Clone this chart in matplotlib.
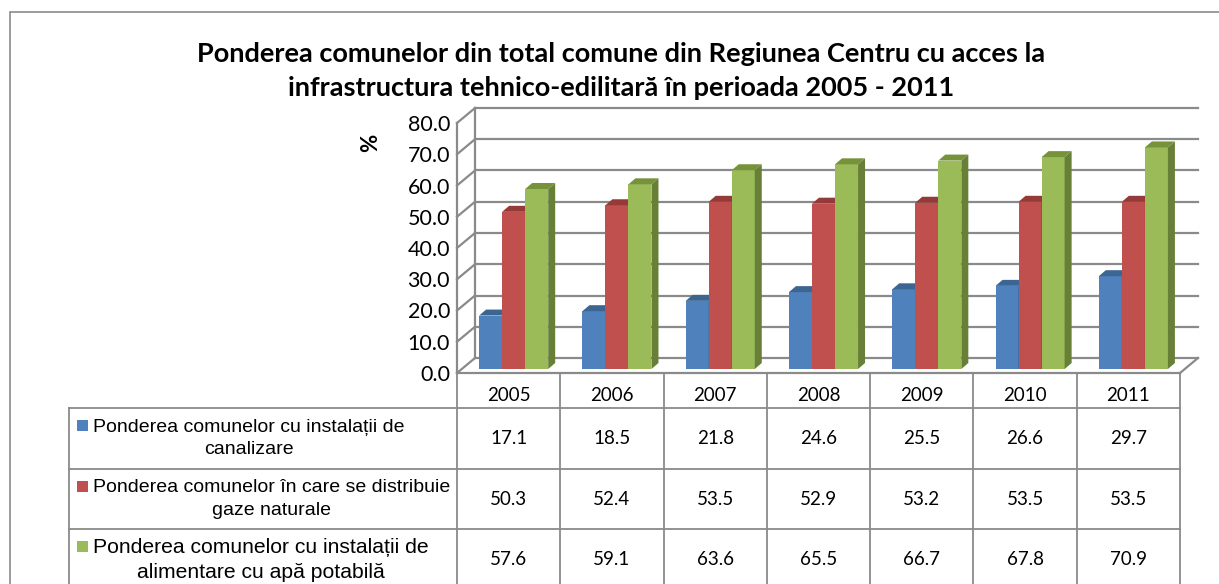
import numpy as np
import matplotlib
matplotlib.use("Agg")
import matplotlib.pyplot as plt
from matplotlib.patches import Polygon, Rectangle

# ------------------------------------------------------------- Date
ANI = ["2005", "2006", "2007", "2008", "2009", "2010", "2011"]
canalizare = [17.1, 18.5, 21.8, 24.6, 25.5, 26.6, 29.7]
gaze = [50.3, 52.4, 53.5, 52.9, 53.2, 53.5, 53.5]
apa = [57.6, 59.1, 63.6, 65.5, 66.7, 67.8, 70.9]
SERII = [
    "Ponderea comunelor cu instalații de\ncanalizare",
    "Ponderea comunelor în care se distribuie\ngaze naturale",
    "Ponderea comunelor cu instalații de\nalimentare cu apă potabilă",
]
Y_TICKS = np.arange(0, 81, 10)
TITLU = ("Ponderea comunelor din total comune din Regiunea Centru cu acces la\n"
         "infrastructura tehnico-edilitară în perioada 2005 - 2011")

# ------------------------------------------------------------- Stil
# culori: fata, capac, lateral
CULORI = [("#4F81BD", "#3C6592", "#385D8A"),
          ("#C0504D", "#943A38", "#8C3836"),
          ("#9BBB59", "#76933C", "#677F36")]
GRI = "#8a8a8a"
FONT_NR = "Lato"
FONT_LEG = "Liberation Sans"

W, H = 1219, 584
fig = plt.figure(figsize=(W / 100, H / 100), dpi=100)


def px(x0, y0, x1, y1):
    # dreptunghi in pixeli (y de sus) -> pozitie in figura
    return [x0 / W, 1 - y1 / H, (x1 - x0) / W, (y1 - y0) / H]


# ------------------------------------------------------------- Chenar si titlu
fig.patches.append(Rectangle((10 / W, -0.1), 2, 1 - 12 / H + 0.1, transform=fig.transFigure,
                             fill=False, ec="#8a8a8a", lw=1.2))
fig.text(621 / W, 1 - 71 / H, TITLU, ha="center", va="center", fontsize=19.5,
         fontweight="bold", family=FONT_NR, linespacing=1.45)

# ------------------------------------------------------------- Grafic 3D (simulat)
ax = fig.add_axes(px(457, 123, 1180, 373))
ax.set_xlim(-0.5, len(ANI) - 0.5)
ax.set_ylim(0, 80)
ax.patch.set_visible(False)
for s in ax.spines.values():
    s.set_visible(False)
ax.set_xticks([])
ax.set_yticks(Y_TICKS, labels=[f"{v:.1f}" for v in Y_TICKS])
ax.tick_params(axis="y", length=0, pad=5, labelsize=15.5)
for t in ax.get_yticklabels():
    t.set_family(FONT_NR)

p = ax.transData.transform([(0, 0), (1, 1)])
sx, sy = p[1] - p[0]


def d(dx, dy):
    # deplasare in pixeli -> unitati de date
    return dx / sx, dy / sy


BX, BY = d(18, 15)   # adancime perete spate
FX, FY = d(5, 4)     # fata coloanelor
DX, DY = d(7, 6)     # adancimea coloanelor
x0, x1 = -0.5, len(ANI) - 0.5

for v in Y_TICKS:
    ax.plot([x0 + BX, x1 + BX], [v + BY, v + BY], color=GRI, lw=1.6, clip_on=False, zorder=1)
    ax.plot([x0, x0 + BX], [v, v + BY], color=GRI, lw=1.6, clip_on=False, zorder=1)
ax.plot([x0 + BX, x0 + BX], [BY, 80 + BY], color=GRI, lw=1.6, clip_on=False, zorder=1)
ax.plot([x0, x0], [0, 80], color=GRI, lw=1.6, clip_on=False, zorder=1)
ax.plot([x0, x1], [0, 0], color=GRI, lw=1.6, clip_on=False, zorder=1)
ax.plot([x1, x1 + BX], [0, BY], color=GRI, lw=1.6, clip_on=False, zorder=1)

BW = 0.223
x = np.arange(len(ANI))
for k, vals in enumerate([canalizare, gaze, apa]):
    fata, capac, lateral = CULORI[k]
    xs = x + (k - 1) * BW + FX
    ax.bar(xs, vals, width=BW, bottom=FY, color=fata, lw=0, zorder=3 + k, clip_on=False)
    for xc, v in zip(xs, vals):
        xl, xr, yt = xc - BW / 2, xc + BW / 2, v + FY
        ax.add_patch(Polygon([(xl, yt), (xr, yt), (xr + DX, yt + DY), (xl + DX, yt + DY)],
                             closed=True, fc=capac, lw=0, zorder=3 + k, clip_on=False))
        ax.add_patch(Polygon([(xr, FY), (xr + DX, FY + DY), (xr + DX, yt + DY), (xr, yt)],
                             closed=True, fc=lateral, lw=0, zorder=3 + k, clip_on=False))

ax.text(-0.12, 0.92, "%", transform=ax.transAxes, rotation=90, ha="center", va="center",
        fontsize=16, fontweight="bold", family=FONT_NR)

# ------------------------------------------------------------- Tabel de date
axt = fig.add_axes(px(457, 373, 1180, 590))
RANDURI = [0, 0.58, 1.58, 2.58, 3.58]
axt.set_xlim(x0, x1)
axt.set_ylim(RANDURI[-1], 0)
axt.axis("off")

tx = axt.transData.transform([(0, 0), (1, 1)])
tsx, tsy = tx[1] - tx[0]
LEG = (457 - 69) / tsx
LEG_TXT = (457 - 93) / tsx
LEG_SQ = (457 - 77) / tsx
SQ_W, SQ_H = 11 / tsx, 11 / abs(tsy)

kw = dict(color=GRI, lw=1.3, clip_on=False)
axt.plot([x0, x1], [0, 0], **kw)
for r in RANDURI[1:]:
    axt.plot([x0 - LEG, x1], [r, r], **kw)
for i in range(len(ANI) + 1):
    axt.plot([x0 + i, x0 + i], [0, RANDURI[-1]], **kw)
axt.plot([x0 - LEG, x0 - LEG], [RANDURI[1], RANDURI[-1]], **kw)

for i, an in enumerate(ANI):
    axt.text(i, RANDURI[1] * 0.64, an, ha="center", va="center", fontsize=13.5, family=FONT_NR)

for k, vals in enumerate([canalizare, gaze, apa]):
    yc = (RANDURI[k + 1] + RANDURI[k + 2]) / 2
    for i, v in enumerate(vals):
        axt.text(i, yc, f"{v:.1f}", ha="center", va="center", fontsize=13.5, family=FONT_NR)
    fs = 15.2 if k == 2 else 14
    axt.text(x0 - LEG_TXT, yc, SERII[k], ha="left", va="center", multialignment="center",
             fontsize=fs, family=FONT_LEG, linespacing=1.42, clip_on=False)
    y_sq = yc - 0.21
    axt.add_patch(Rectangle((x0 - LEG_SQ, y_sq - SQ_H / 2), SQ_W, SQ_H, fc=CULORI[k][0],
                            lw=0, clip_on=False))

fig.savefig("out.png", dpi=100)
